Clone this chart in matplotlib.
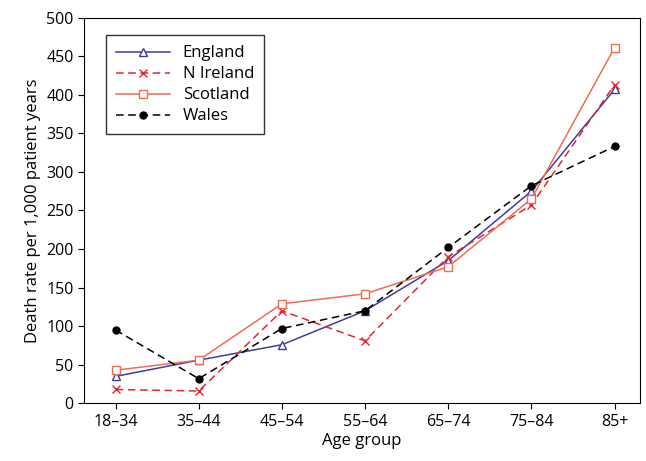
import matplotlib.pyplot as plt
import numpy as np

plt.rcParams['font.family'] = ['Open Sans', 'DejaVu Sans']

age_groups = ['18–34', '35–44', '45–54', '55–64', '65–74', '75–84', '85+']
england = [35, 56, 76, 120, 185, 275, 407]
n_ireland = [18, 16, 120, 81, 190, 257, 413]
scotland = [43, 56, 129, 142, 177, 265, 461]
wales = [95, 32, 97, 120, 202, 282, 333]

fig = plt.figure(figsize=(6.46, 4.61), dpi=100)
ax = fig.add_axes([0.13, 0.125, 0.86, 0.837])
x = np.arange(len(age_groups))

ax.plot(x, england, color='#3a3f9c', lw=1.1, marker='^', mfc='white', ms=6, label='England')
ax.plot(x, n_ireland, color='#e3262c', lw=1.1, ls=(0, (5, 3)), marker='x', ms=6, label='N Ireland')
ax.plot(x, scotland, color='#f26a50', lw=1.1, marker='s', mfc='white', ms=6, label='Scotland')
ax.plot(x, wales, color='black', lw=1.1, ls=(0, (5, 3)), marker='o', ms=5, label='Wales')

ax.set_xlim(-0.38, 6.3)
ax.set_ylim(0, 500)
ax.set_yticks(range(0, 501, 50))
ax.set_xticks(x)
ax.set_xticklabels(age_groups)
ax.tick_params(labelsize=11.5, direction='out', length=4)
ax.set_xlabel('Age group', fontsize=12, labelpad=2)
ax.set_ylabel('Death rate per 1,000 patient years', fontsize=12)

leg = ax.legend(loc='upper left', fontsize=12, frameon=True, fancybox=False,
                edgecolor='black', handlelength=3.2, borderpad=0.6, labelspacing=0.3,
                bbox_to_anchor=(0.025, 0.975))
leg.get_frame().set_linewidth(1.0)

fig.savefig('out.png', dpi=100)
